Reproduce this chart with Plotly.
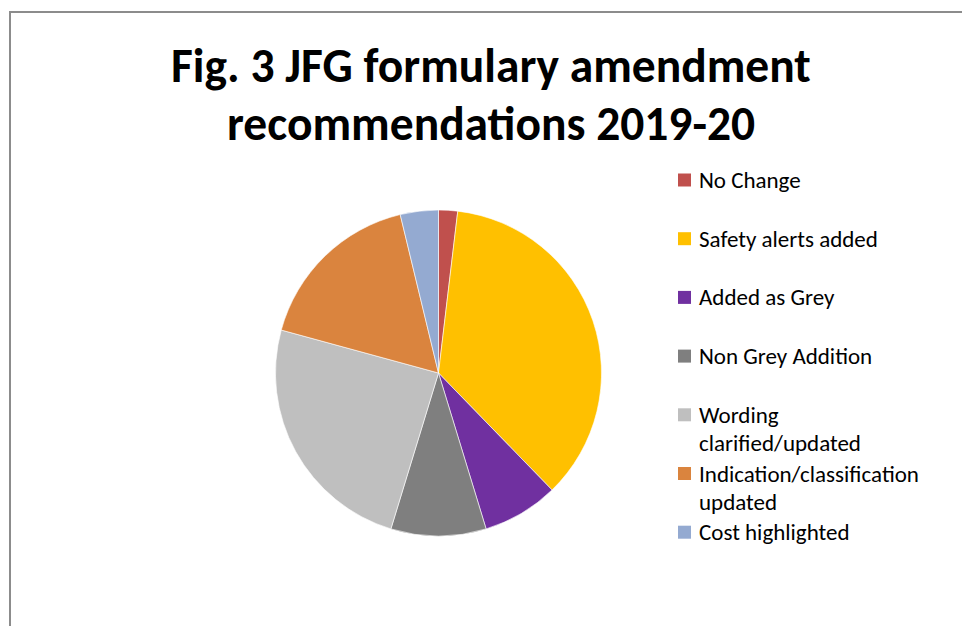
import plotly.graph_objects as go

# ---- data ----
categories = ["No Change", "Safety alerts added", "Added as Grey", "Non Grey Addition",
              "Wording clarified/updated", "Indication/classification updated", "Cost highlighted"]
legend_labels = ["No Change", "Safety alerts added", "Added as Grey", "Non Grey Addition",
                 "Wording<br>clarified/updated", "Indication/classification<br>updated", "Cost highlighted"]
values = [1, 19, 4, 5, 13, 9, 2]
colors = ["#C0504D", "#FFC000", "#7030A0", "#7F7F7F", "#BFBFBF", "#DA843E", "#94AAD1"]
title_text = "Fig. 3 JFG formulary amendment<br>recommendations 2019-20"

W, H = 962, 626
FONT = "Carlito, Lato, 'Open Sans', sans-serif"

def px(x):
    return x / W

def py(y):
    return 1 - y / H

cx, cy, r = 438.5, 373, 163

fig = go.Figure(go.Pie(
    labels=categories,
    values=values,
    sort=False,
    direction="clockwise",
    rotation=0,
    marker=dict(colors=colors, line=dict(color="white", width=0.6)),
    textinfo="none",
    hoverinfo="label+value+percent",
    showlegend=False,
    domain=dict(x=[px(cx - r), px(cx + r)], y=[py(cy + r), py(cy - r)]),
))

annotations = []
shapes = []

# title
title_lines = title_text.split("<br>")
for i, line in enumerate(title_lines):
    annotations.append(dict(
        text="<b>" + line + "</b>", x=px(491), y=py(66 + i * 58),
        xref="paper", yref="paper", xanchor="center", yanchor="middle",
        showarrow=False, font=dict(family=FONT, size=47.5, color="#000000"),
    ))

# custom legend
y0, step, sub = 180, 58.7, 28.5
for i, (lab, col) in enumerate(zip(legend_labels, colors)):
    yc = y0 + i * step
    shapes.append(dict(type="rect", xref="paper", yref="paper",
                       x0=px(678), x1=px(691), y0=py(yc + 6.5), y1=py(yc - 6.5),
                       fillcolor=col, line=dict(width=0)))
    for j, part in enumerate(lab.split("<br>")):
        annotations.append(dict(
            text=part, x=px(698), y=py(yc + j * sub),
            xref="paper", yref="paper", xanchor="left", yanchor="middle",
            showarrow=False, borderpad=0,
            font=dict(family=FONT, size=23, color="#000000"),
        ))

# chart area border
shapes.append(dict(type="rect", xref="paper", yref="paper",
                   x0=px(10), x1=px(W + 20), y0=py(H + 20), y1=py(12),
                   line=dict(color="#8C8C8C", width=2), fillcolor="rgba(0,0,0,0)"))

fig.update_layout(
    width=W, height=H,
    margin=dict(l=0, r=0, t=0, b=0),
    paper_bgcolor="white", plot_bgcolor="white",
    annotations=annotations, shapes=shapes,
    font=dict(family=FONT),
)

fig.write_html("out.html", config={"displayModeBar": False})

# remove the default 8px body margin so the figure fills the window exactly
with open("out.html", "r", encoding="utf-8") as f:
    html = f.read()
html = html.replace("<body>", '<body style="margin:0;overflow:hidden">', 1)
with open("out.html", "w", encoding="utf-8") as f:
    f.write(html)
